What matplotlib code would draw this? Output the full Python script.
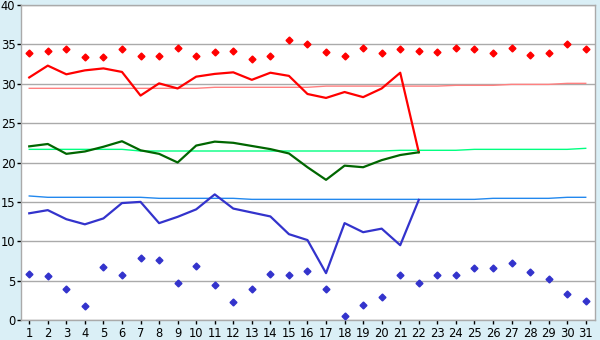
import matplotlib
matplotlib.use("Agg")
import matplotlib.pyplot as plt
import numpy as np

days = list(range(1, 32))
obs_days = list(range(1, 23))

max_record = [33.9, 34.2, 34.4, 33.4, 33.4, 34.4, 33.5, 33.5, 34.5, 33.5,
              34.0, 34.1, 33.2, 33.5, 35.5, 35.0, 34.0, 33.5, 34.6, 33.9,
              34.4, 34.1, 34.0, 34.6, 34.4, 33.9, 34.5, 33.7, 33.9, 35.0, 34.4]
max_temp = [30.8, 32.3, 31.2, 31.7, 31.95, 31.5, 28.5, 30.05, 29.4, 30.9,
            31.25, 31.45, 30.5, 31.4, 31.0, 28.7, 28.2, 28.95, 28.3, 29.4,
            31.4, 21.3]
max_normal = [29.42] * 10 + [29.55] * 6 + [29.7] * 7 + [29.8] * 3 + [29.92] * 3 + [30.05] * 2
mean_temp = [22.05, 22.35, 21.1, 21.4, 22.0, 22.7, 21.55, 21.1, 20.0, 22.15,
             22.65, 22.5, 22.1, 21.7, 21.15, 19.4, 17.8, 19.6, 19.4, 20.3,
             20.95, 21.3]
mean_normal = [21.67] * 6 + [21.46] * 14 + [21.55] * 4 + [21.67] * 6 + [21.8] * 1
min_temp = [13.55, 13.95, 12.8, 12.15, 12.9, 14.85, 15.0, 12.3, 13.1, 14.05,
            15.95, 14.15, 13.65, 13.15, 10.9, 10.15, 5.95, 12.3, 11.15, 11.6,
            9.5, 15.25]
min_normal = [15.75] + [15.58] * 6 + [15.45] * 5 + [15.32] * 13 + [15.45] * 4 + [15.58] * 2
min_record = [5.8, 5.55, 3.9, 1.75, 6.7, 5.7, 7.85, 7.6, 4.65, 6.8,
              4.4, 2.25, 3.9, 5.8, 5.7, 6.2, 3.9, 0.5, 1.9, 2.9,
              5.7, 4.65, 5.7, 5.7, 6.55, 6.55, 7.2, 6.05, 5.15, 3.25, 2.35]

y_ticks = [0, 5, 10, 15, 20, 25, 30, 35, 40]

bg = "#daeff6"
fig = plt.figure(figsize=(6, 3.4), dpi=100, facecolor=bg)
ax = fig.add_axes([20.7 / 600, 20 / 340, (595 - 20.7) / 600, 315 / 340])
ax.set_facecolor("white")

grid_c = "#aaaaaa"
for y in y_ticks:
    ax.axhline(y, color=grid_c, lw=1, zorder=1)

ax.plot(days, max_normal, color="#ff8080", lw=1, zorder=2)
ax.plot(days, mean_normal, color="#00ff80", lw=1, zorder=2)
ax.plot(days, min_normal, color="#2288ee", lw=1, zorder=2)

ax.plot(obs_days, max_temp, color="#ff0000", lw=1.6, zorder=3)
ax.plot(obs_days, mean_temp, color="#006600", lw=1.6, zorder=3)
ax.plot(obs_days, min_temp, color="#3333cc", lw=1.6, zorder=3)

ax.plot(days, max_record, linestyle="none", marker="D", ms=3.5, color="#ff0000", zorder=4)
ax.plot(days, min_record, linestyle="none", marker="D", ms=3.5, color="#3333cc", zorder=4)

ax.set_xlim(0.54, 31.5)
ax.set_ylim(0, 40)
ax.set_yticks(y_ticks)
ax.set_xticks(days)
ax.set_xticklabels([str(d) for d in days])
for s in ax.spines.values():
    s.set_color(grid_c)
    s.set_linewidth(1)
ax.tick_params(axis="both", colors="black", labelsize=8.3, length=3, width=1)
ax.tick_params(axis="x", pad=2)
ax.tick_params(axis="y", pad=0.8)

fig.savefig("out.png", dpi=100, facecolor=bg)
